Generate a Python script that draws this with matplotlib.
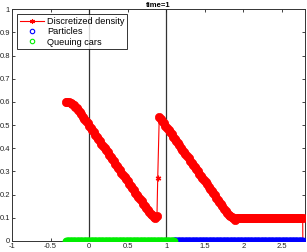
import numpy as np
import matplotlib
matplotlib.use("Agg")
import matplotlib.pyplot as plt

plt.rcParams['font.family'] = ['Liberation Sans', 'DejaVu Sans']

# ---- data ----
title = "time=1"
xticks = [-1, -0.5, 0, 0.5, 1, 1.5, 2, 2.5]
xticklabels = ["-1", "-0.5", "0", "0.5", "1", "1.5", "2", "2.5"]
yticks = [0, 0.1, 0.2, 0.3, 0.4, 0.5, 0.6, 0.7, 0.8, 0.9, 1]
yticklabels = ["0", "0.1", "0.2", "0.3", "0.4", "0.5", "0.6", "0.7", "0.8", "0.9", "1"]
vlines_x = [0, 1]

# first density wave (sample positions -0.30 .. 0.88 step 0.02)
seg1_x = np.round(np.arange(-0.30, 0.8801, 0.02), 3)
seg1_y = [0.600, 0.600, 0.598, 0.595, 0.591, 0.586, 0.580, 0.572, 0.564, 0.555,
          0.546, 0.536, 0.527, 0.517, 0.507, 0.497, 0.487, 0.478, 0.468, 0.459,
          0.449, 0.439, 0.430, 0.420, 0.411, 0.401, 0.391, 0.382, 0.372, 0.363,
          0.353, 0.343, 0.334, 0.324, 0.315, 0.305, 0.295, 0.286, 0.276, 0.267,
          0.257, 0.247, 0.238, 0.228, 0.219, 0.209, 0.199, 0.190, 0.180, 0.171,
          0.161, 0.152, 0.143, 0.134, 0.125, 0.117, 0.110, 0.104, 0.101, 0.106]
# jump points
jump_x = [0.89]
jump_y = [0.27]
# second density wave (0.91 .. 1.89 step 0.02)
seg2_x = np.round(np.arange(0.91, 1.8901, 0.02), 3)
seg2_y = [0.535, 0.526, 0.516, 0.507, 0.497, 0.488, 0.479, 0.469, 0.460, 0.450,
          0.441, 0.432, 0.422, 0.413, 0.403, 0.394, 0.385, 0.375, 0.366, 0.356,
          0.347, 0.338, 0.328, 0.319, 0.309, 0.300, 0.291, 0.281, 0.272, 0.262,
          0.253, 0.244, 0.234, 0.225, 0.215, 0.206, 0.197, 0.187, 0.178, 0.168,
          0.159, 0.150, 0.140, 0.131, 0.122, 0.113, 0.106, 0.102, 0.100, 0.090]
# plateau (1.91 .. 2.77 step 0.02) then drop to zero
seg3_x = np.round(np.arange(1.91, 2.7701, 0.02), 3)
seg3_y = [0.100] * len(seg3_x)
end_x = [2.772]
end_y = [0.0]

band_x = np.concatenate([seg1_x, seg2_x, seg3_x])
band_y = np.concatenate([seg1_y, seg2_y, seg3_y])
density_x = np.concatenate([seg1_x, jump_x, seg2_x, seg3_x, end_x])
density_y = np.concatenate([seg1_y, jump_y, seg2_y, seg3_y, end_y])

# particles / queue extents on the road (y = 0)
queue_start, queue_end, n_queue = -0.30, 1.10, 140
part_start, part_end, n_part = 1.10, 2.77, 167
queue_x = np.linspace(queue_start, queue_end, n_queue)
part_x = np.linspace(part_start, part_end, n_part)

# ---- figure ----
fig = plt.figure(figsize=(3.07, 2.52), dpi=100)
ax = fig.add_axes([0.039, 0.0437, 0.9545, 0.920])

for xv in vlines_x:
    ax.axvline(xv, color='#333333', lw=0.9, zorder=1)

asterisk = (6, 2, 0)
ax.plot(density_x, density_y, color='red', lw=0.8, marker=asterisk, ms=4,
        mew=0.9, mec='red', mfc='red', label='Discretized density', zorder=3)
# dense overlapping samples form the thick band
ax.plot(band_x, band_y, ls='none', marker='o', ms=6.0,
        mew=0.5, mec='red', mfc='red', color='red', zorder=3)
ax.plot(part_x, np.zeros_like(part_x), ls='none', marker='o', ms=4.2,
        mew=1.4, mec='blue', mfc='none', color='blue', label='Particles', zorder=4)
ax.plot(queue_x, np.zeros_like(queue_x), ls='none', marker='o', ms=4.2,
        mew=1.4, mec='#00ee00', mfc='none', color='#00ee00', label='Queuing cars', zorder=5)

ax.set_xlim(-1, 2.8)
ax.set_ylim(0, 1)
ax.set_xticks(xticks)
ax.set_xticklabels(xticklabels)
ax.set_yticks(yticks)
ax.set_yticklabels(yticklabels)
ax.tick_params(direction='in', length=2.5, width=0.6, labelsize=5.5,
               colors='#222222', top=True, right=True, pad=1.5)
for s in ax.spines.values():
    s.set_linewidth(0.7)
    s.set_color('#333333')

ax.set_title(title, fontsize=5.5, fontweight='bold', pad=1.5)

leg = ax.legend(loc='upper left', fontsize=6.6, frameon=True, fancybox=False,
                edgecolor='black', borderpad=0.3, labelspacing=0.15,
                handlelength=2.6, handletextpad=0.35, borderaxespad=0.55)
leg.get_frame().set_linewidth(0.7)
hs = leg.legend_handles
hs[0].set_markersize(3.5)
hs[0].set_markeredgewidth(0.8)
for h in hs[1:]:
    h.set_markersize(3.2)
    h.set_markeredgewidth(0.8)

fig.savefig('out.png', dpi=100)
